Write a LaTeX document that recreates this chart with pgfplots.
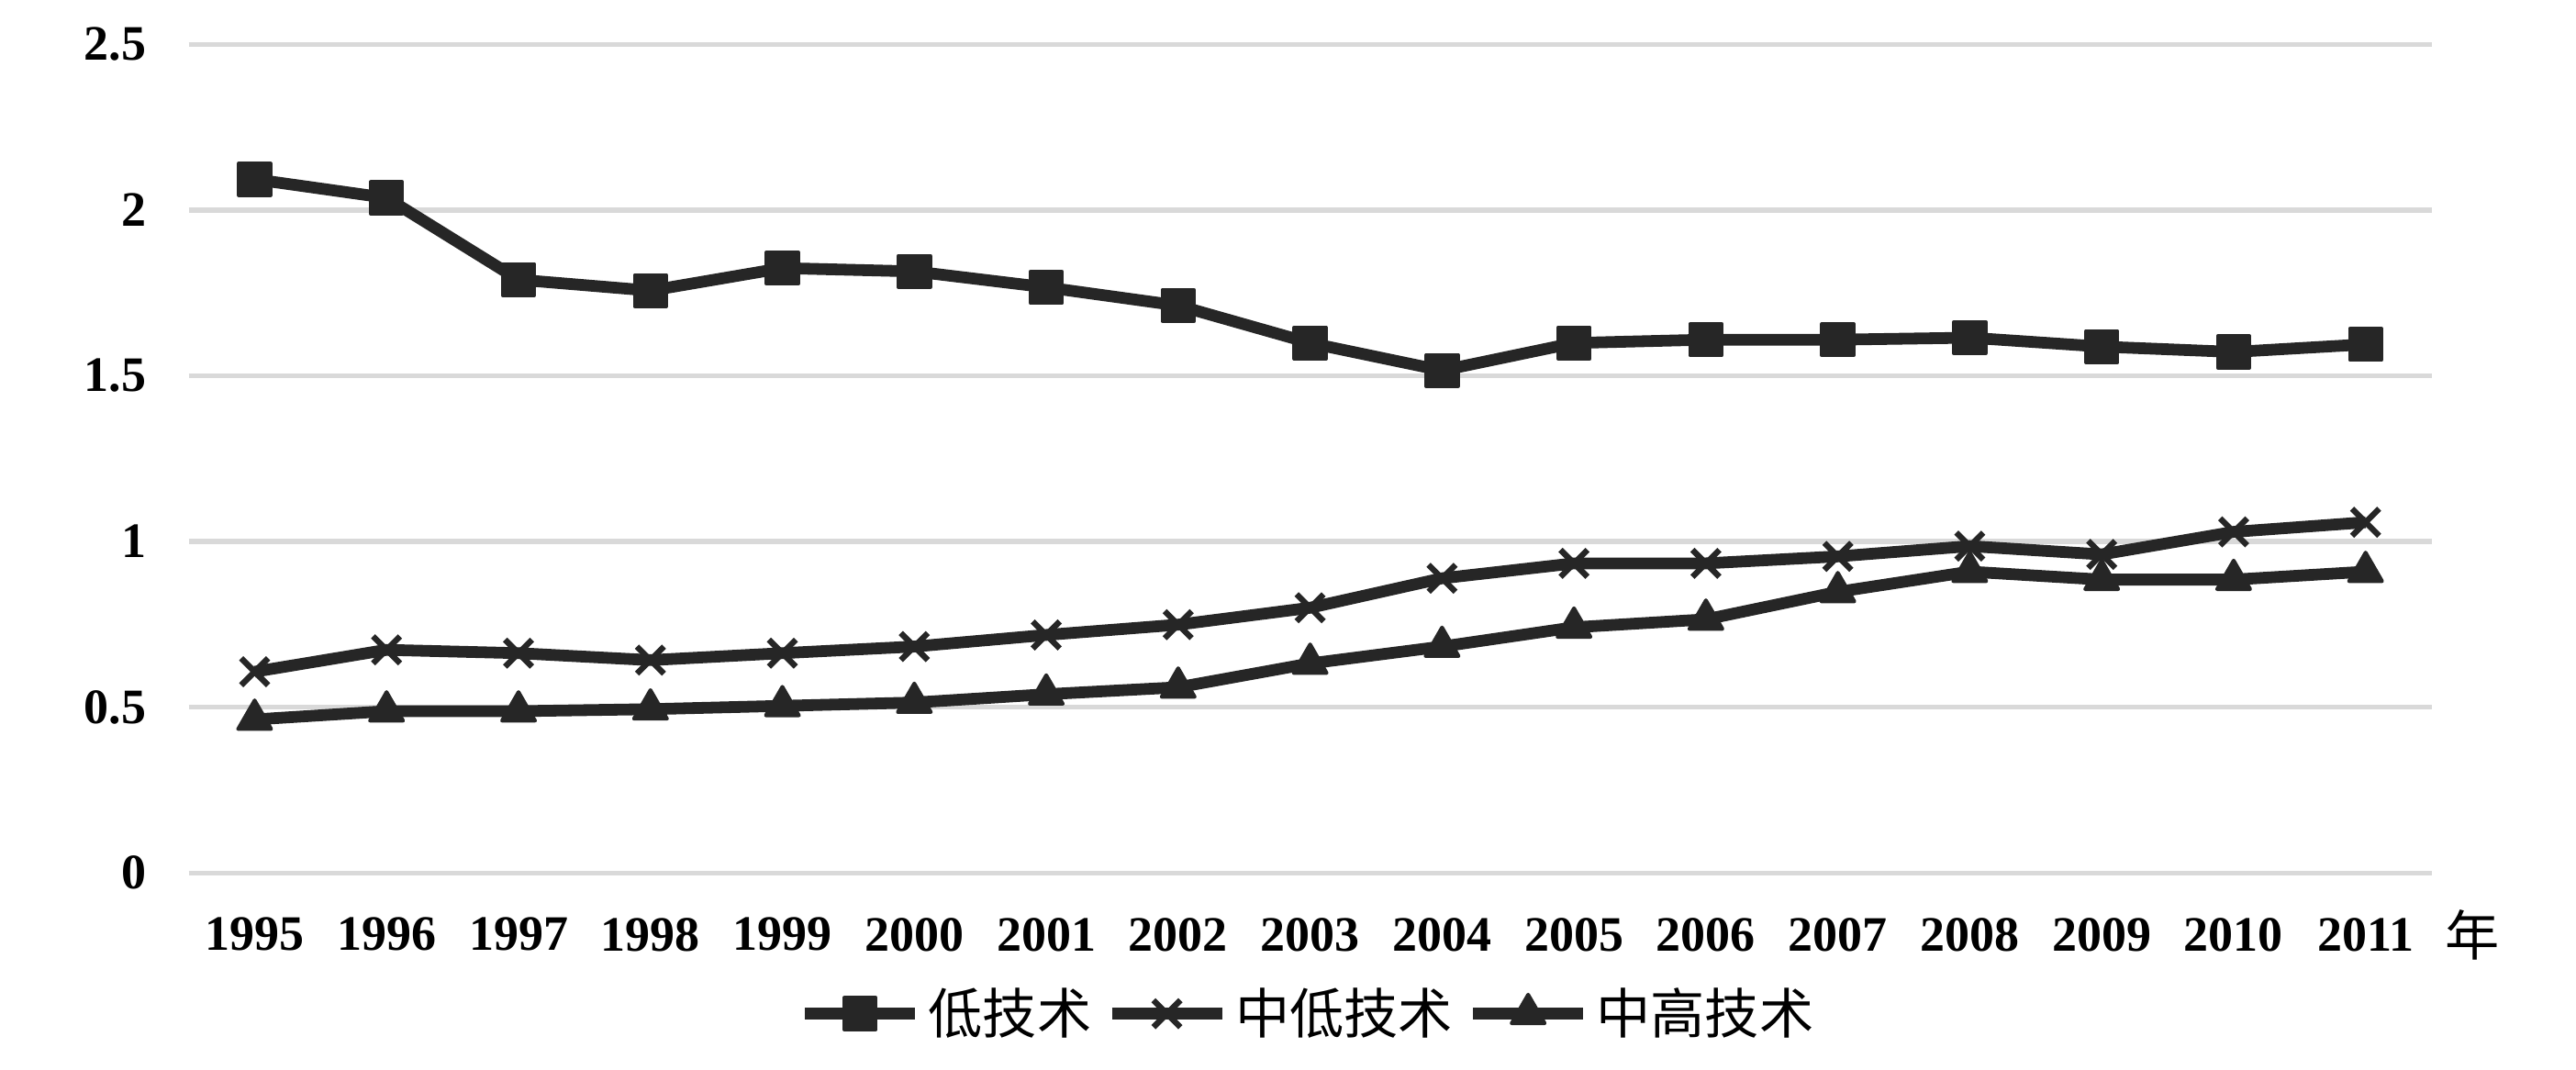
\documentclass[border=0pt]{standalone}
\usepackage{pgfplots}
\pgfplotsset{compat=1.18}
\usepackage{fontspec}
\setmainfont{Liberation Serif}
\newfontfamily\cjk{Noto Sans CJK SC}
\definecolor{ln}{HTML}{262626}
\definecolor{gr}{HTML}{D9D9D9}
\begin{document}
\begin{tikzpicture}
\useasboundingbox (-51.4pt,-53.6pt) rectangle (650.35pt,237.8pt);
\begin{axis}[
  at={(0pt,0pt)}, anchor=south west,
  scale only axis, width=611pt, height=225.7pt,
  xmin=-0.5, xmax=16.5, ymin=0, ymax=2.5,
  xtick={0,...,16},
  xticklabels={1995,1996,1997,1998,1999,2000,2001,2002,2003,2004,2005,2006,2007,2008,2009,2010,2011},
  ytick={0,0.5,1,1.5,2,2.5},
  yticklabels={0,0.5,1,1.5,2,2.5},
  axis line style={draw=none},
  major tick length=0pt,
  ymajorgrids, grid style={gr, line width=1.3pt},
  tick label style={font=\fontsize{13.5}{16}\selectfont\bfseries},
  xticklabel style={yshift=-8.7pt},
  yticklabel style={xshift=-8pt},
  /pgf/number format/assume math mode=true,
  clip=false,
  every axis plot/.append style={ln, line width=3.2pt, line join=round, mark options={solid, fill=ln, line width=1pt}},
  legend style={at={(0.500,-0.170)}, anchor=center, draw=none, fill=none,
    font=\cjk\fontsize{14.8}{16}\selectfont, legend columns=3,
    /tikz/every even column/.append style={column sep=2pt}},
  legend image code/.code={\draw[mark repeat=2,mark phase=2] plot coordinates {(0pt,0pt) (15pt,0pt) (30pt,0pt)};},
]
\addplot[mark=square*, mark size=4.3pt] coordinates {
(0,2.093) (1,2.037) (2,1.790) (3,1.757) (4,1.825) (5,1.815) (6,1.767) (7,1.712) (8,1.599)
(9,1.516) (10,1.599) (11,1.609) (12,1.609) (13,1.615) (14,1.588) (15,1.572) (16,1.595)};
\addlegendentry{低技术}
\addplot[mark=x, mark size=5.2pt, mark options={line width=1.6pt}] coordinates {
(0,0.607) (1,0.673) (2,0.663) (3,0.642) (4,0.663) (5,0.683) (6,0.718) (7,0.749) (8,0.800)
(9,0.889) (10,0.934) (11,0.934) (12,0.955) (13,0.986) (14,0.961) (15,1.029) (16,1.058)};
\addlegendentry{中低技术}
\addplot[mark=triangle*, mark size=5.2pt] coordinates {
(0,0.463) (1,0.488) (2,0.488) (3,0.494) (4,0.504) (5,0.514) (6,0.539) (7,0.560) (8,0.632)
(9,0.683) (10,0.741) (11,0.765) (12,0.848) (13,0.909) (14,0.885) (15,0.885) (16,0.909)};
\addlegendentry{中高技术}
\end{axis}
\node[font=\cjk\fontsize{14.8}{16}\selectfont] at (622pt,-17pt) {年};
\end{tikzpicture}
\end{document}
